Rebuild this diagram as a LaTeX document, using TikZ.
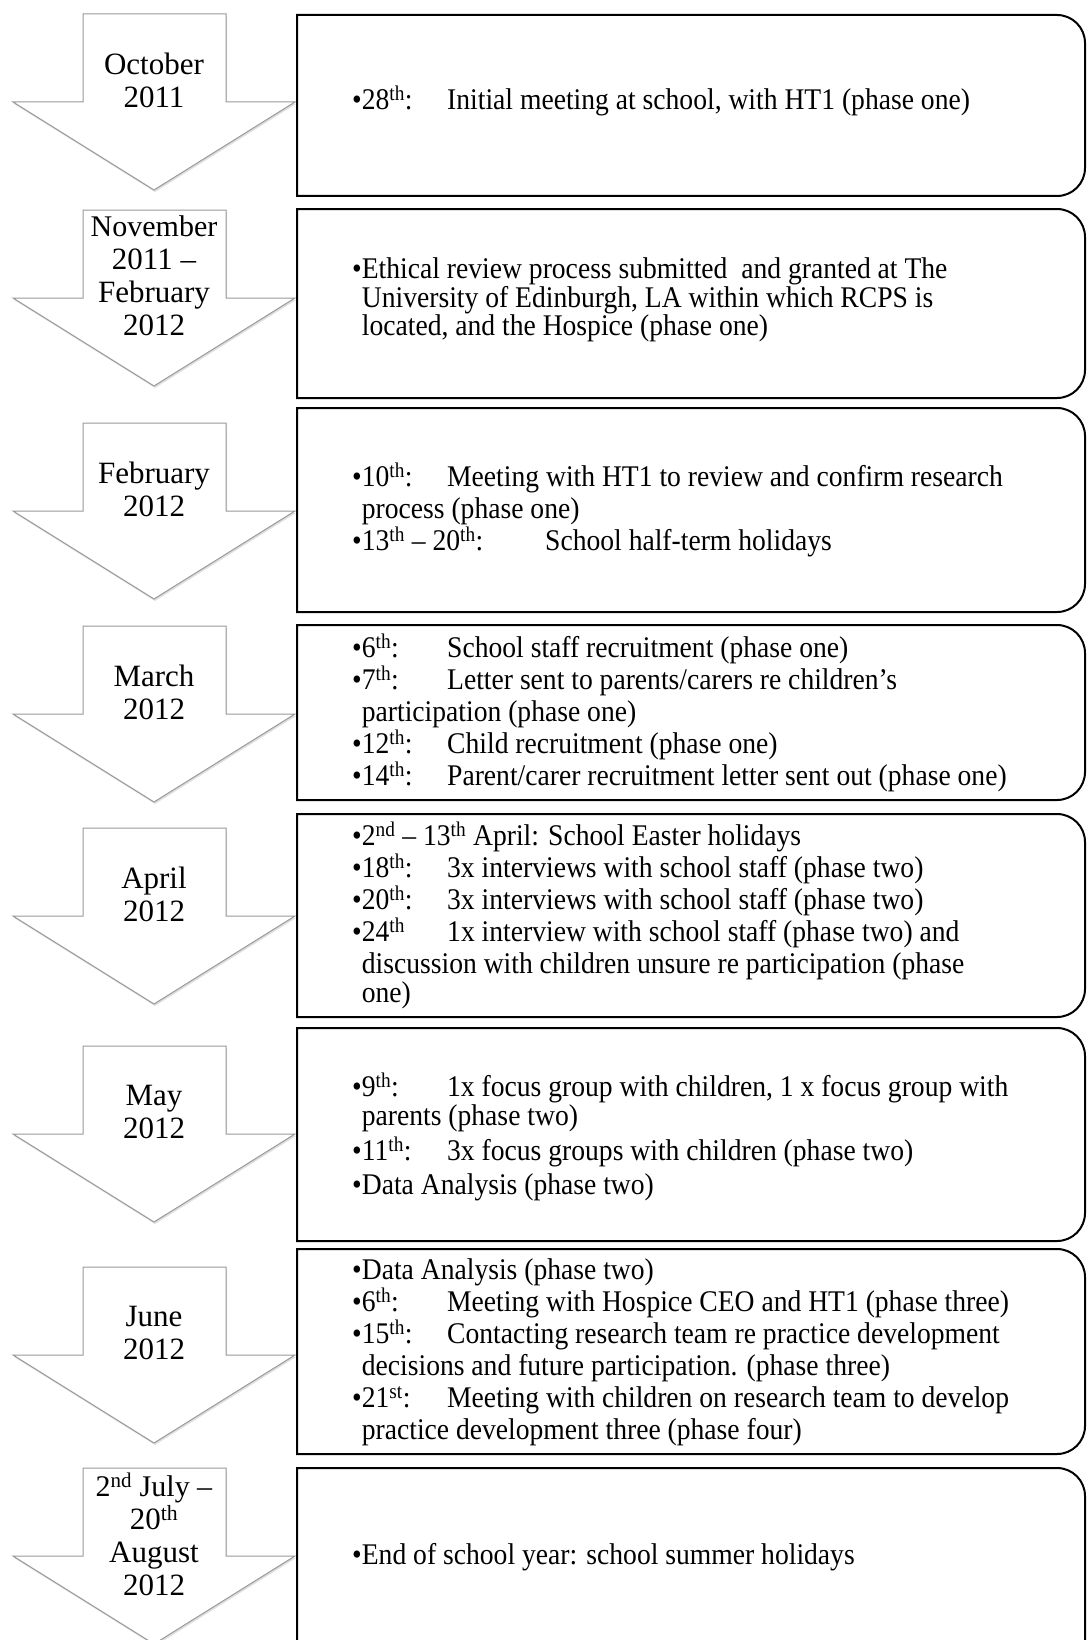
\documentclass[tikz,border=0pt]{standalone}
\usepackage{fontspec}
\setmainfont{Liberation Serif}
\newfontfamily\evfont{Liberation Serif}[Ligatures=TeX,FakeStretch=0.92]
\usetikzlibrary{shadows}

% one month arrow: name, top edge, label
\newcommand\montharrow[3]{%
  \draw[arrowshape] (83,-#2) -- (226,-#2) -- (226,{-#2-88}) -- (295,{-#2-88})
    -- (154,{-#2-176}) -- (13,{-#2-88}) -- (83,{-#2-88}) -- cycle;
  \node[monthtext] (#1) at (154,{-#2-66}) {#3};}

% event frame, square on the left and rounded on the right: top, bottom
\newcommand\evframe[2]{%
  \draw[evline] (297,-#1) -- (1057,-#1) arc[start angle=90,end angle=0,radius=28]
    -- (1085,{-#2+28}) arc[start angle=0,end angle=-90,radius=28] -- (297,-#2) -- cycle;}

\newcommand\dt[2]{\makebox[#1][l]{\textbullet#2}}
\newcommand\cont{\phantom{\textbullet}}
\newcommand\sth{\textsuperscript{th}}

\begin{document}
\begin{tikzpicture}[x=1pt,y=1pt]

\tikzset{arrowshape/.style={draw=black!40, line width=1, fill=white, line join=miter,
  drop shadow={opacity=0.25, shadow xshift=1pt, shadow yshift=-2pt}},
monthtext/.style={align=center, inner sep=0, font=\fontsize{31}{33}\selectfont},
evline/.style={black, line width=2},
evtext/.style={anchor=west, align=left, inner sep=0, font=\evfont\fontsize{30}{32}\selectfont}}

\useasboundingbox (0,0) rectangle (1087,-1640);
\clip (0,0) rectangle (1087,-1640);

% arrows
\montharrow{oct}{14}{October\\2011}
\montharrow{nov}{210}{\fontsize{30}{29}\selectfont November\\2011 --\\February\\2012}
\montharrow{feb}{423}{February\\2012}
\montharrow{mar}{626}{March\\2012}
\montharrow{apr}{828}{April\\2012}
\montharrow{may}{1046}{May\\2012}
\montharrow{jun}{1267}{June\\2012}
\montharrow{aug}{1468}{\fontsize{30}{29}\selectfont 2\textsuperscript{nd} July --\\20\sth\\August\\2012}

% frames
\evframe{15}{196}
\evframe{209}{398}
\evframe{408}{612}
\evframe{625}{800}
\evframe{814}{1017}
\evframe{1028}{1241}
\evframe{1249}{1454}
\evframe{1468}{1680}

% events
\node[evtext] (ev1) at (352,-101) {\dt{95pt}{28\sth:}Initial meeting at school, with HT1 (phase one)};

\node[evtext, font=\evfont\fontsize{30}{27}\selectfont] (ev2) at (352,-300) {\textbullet Ethical review process submitted\ \ and granted at The\\
\cont University of Edinburgh, LA within which RCPS is\\
\cont located, and the Hospice (phase one)};

\node[evtext] (ev3) at (352,-510) {\dt{95pt}{10\sth:}Meeting with HT1 to review and confirm research\\
\cont process (phase one)\\
\dt{193pt}{13\sth\ -- 20\sth:}School half-term holidays};

\node[evtext] (ev4) at (352,-713) {\dt{95pt}{6\sth:}School staff recruitment (phase one)\\
\dt{95pt}{7\sth:}Letter sent to parents/carers re children’s\\
\cont participation (phase one)\\
\dt{95pt}{12\sth:}Child recruitment (phase one)\\
\dt{95pt}{14\sth:}Parent/carer recruitment letter sent out (phase one)};

\node[evtext] (ev5) at (352,-915) {\textbullet 2\textsuperscript{nd} -- 13\sth\ April: School Easter holidays\\
\dt{95pt}{18\sth:}3x interviews with school staff (phase two)\\
\dt{95pt}{20\sth:}3x interviews with school staff (phase two)\\
\dt{95pt}{24\sth}1x interview with school staff (phase two) and\\
\cont discussion with children unsure re participation (phase\\[-3pt]
\cont one)};

\node[evtext] (ev6) at (352,-1137) {\dt{95pt}{9\sth:}1x focus group with children, 1 x focus group with\\[-3pt]
\cont parents (phase two)\\[3pt]
\dt{95pt}{11\sth:}3x focus groups with children (phase two)\\[2pt]
\textbullet Data Analysis (phase two)};

\node[evtext] (ev7) at (352,-1352) {\textbullet Data Analysis (phase two)\\
\dt{95pt}{6\sth:}Meeting with Hospice CEO and HT1 (phase three)\\
\dt{95pt}{15\sth:}Contacting research team re practice development\\
\cont decisions and future participation. (phase three)\\
\dt{95pt}{21\textsuperscript{st}:}Meeting with children on research team to develop\\
\cont practice development three (phase four)};

\node[evtext] (ev8) at (352,-1557) {\textbullet End of school year: school summer holidays};

\end{tikzpicture}
\end{document}
